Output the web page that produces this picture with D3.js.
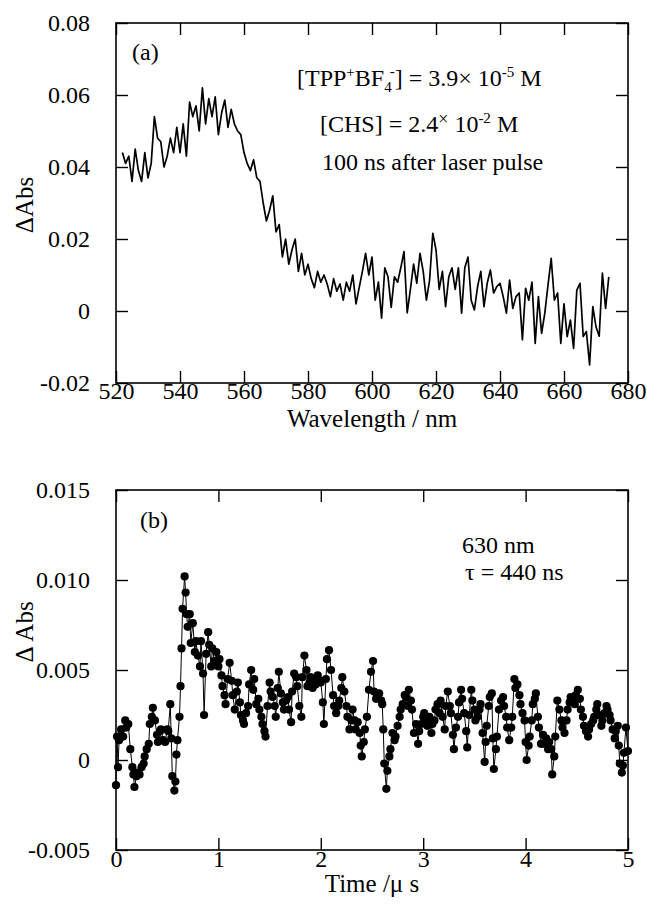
<!DOCTYPE html>
<html>
<head>
<meta charset="utf-8">
<script src="https://cdn.jsdelivr.net/npm/d3@7"></script>
<style>
  body { margin: 0; background: #fff; }
  svg text { font-family: "Liberation Serif", "Times New Roman", serif; fill: #000; }
</style>
</head>
<body>
<svg id="chart" width="647" height="910"></svg>
<script>
// ---- panel (a): transient absorption spectrum, 100 ns after pulse ----
const wavelengthNm = [
  522, 523, 524, 525, 526, 527, 528, 529, 530, 531,
  532, 533, 534, 535, 536, 537, 538, 539, 540, 541,
  542, 543, 544, 545, 546, 547, 548, 549, 550, 551,
  552, 553, 554, 555, 556, 557, 558, 559, 560, 561,
  562, 563, 564, 565, 566, 567, 568, 569, 570, 571,
  572, 573, 574, 575, 576, 577, 578, 579, 580, 581,
  582, 583, 584, 585, 586, 587, 588, 589, 590, 591,
  592, 593, 594, 595, 596, 597, 598, 599, 600, 601,
  602, 603, 604, 605, 606, 607, 608, 609, 610, 611,
  612, 613, 614, 615, 616, 617, 618, 619, 620, 621,
  622, 623, 624, 625, 626, 627, 628, 629, 630, 631,
  632, 633, 634, 635, 636, 637, 638, 639, 640, 641,
  642, 643, 644, 645, 646, 647, 648, 649, 650, 651,
  652, 653, 654, 655, 656, 657, 658, 659, 660, 661,
  662, 663, 664, 665, 666, 667, 668, 669, 670, 671,
  672, 673, 674
];
const spectrumAbs = [
  0.044, 0.041, 0.043, 0.036, 0.045, 0.039, 0.036, 0.044, 0.037, 0.041,
  0.054, 0.048, 0.047, 0.040, 0.043, 0.048, 0.044, 0.051, 0.044, 0.052,
  0.043, 0.058, 0.054, 0.057, 0.050, 0.062, 0.052, 0.059, 0.054, 0.0595,
  0.049, 0.055, 0.0586, 0.051, 0.056, 0.052, 0.050, 0.049, 0.044, 0.041,
  0.039, 0.042, 0.037, 0.036, 0.030, 0.025, 0.028, 0.032, 0.022, 0.024,
  0.015, 0.020, 0.013, 0.017, 0.020, 0.011, 0.016, 0.010, 0.013, 0.009,
  0.0065, 0.011, 0.008, 0.010, 0.0075, 0.004, 0.009, 0.0055, 0.0075, 0.003,
  0.008, 0.0055, 0.010, 0.002, 0.0065, 0.011, 0.016, 0.010, 0.015, 0.003,
  0.008, -0.002, 0.012, 0.0095, 0.001, 0.0095, 0.008, 0.012, 0.0165, -0.0005,
  0.006, 0.013, 0.0077, 0.016, 0.011, 0.003, 0.0086, 0.0216, 0.017, 0.006,
  0.011, 0.0012, 0.0095, 0.012, 0.006, 0.012, -0.0006, 0.012, 0.015, 0.003,
  0.0003, 0.0068, 0.011, 0.0012, 0.0077, 0.0114, 0.005, 0.0068, 0.0077, 0.004,
  -0.0006, 0.0086, 0.0007, 0.004, 0.005, -0.008, 0.0063, 0.003, 0.008, -0.009,
  0.004, -0.0062, -0.0006, 0.0072, 0.0146, 0.003, 0.005, -0.009, 0.002, -0.0071,
  -0.0025, -0.0104, 0.0058, 0.0077, -0.0071, -0.0057, -0.015, 0.0012, -0.0044, -0.007,
  0.0105, 0.0007, 0.0095
];
const spectrumXTicks = [520, 540, 560, 580, 600, 620, 640, 660, 680];
const spectrumYTicks = [-0.02, 0, 0.02, 0.04, 0.06, 0.08];

// ---- panel (b): decay at 630 nm ----
const timeUs = [
  0.00, 0.01, 0.02, 0.03, 0.05, 0.07, 0.09, 0.10, 0.12, 0.14,
  0.16, 0.17, 0.18, 0.20, 0.21, 0.23, 0.25, 0.27, 0.28, 0.30,
  0.32, 0.33, 0.35, 0.36, 0.38, 0.40, 0.41, 0.43, 0.44, 0.46,
  0.48, 0.50, 0.51, 0.53, 0.54, 0.55, 0.57, 0.58, 0.59, 0.60,
  0.62, 0.63, 0.64, 0.65, 0.67, 0.68, 0.69, 0.70, 0.72, 0.73,
  0.75, 0.77, 0.78, 0.80, 0.82, 0.83, 0.85, 0.86, 0.88, 0.90,
  0.91, 0.93, 0.94, 0.96, 0.98, 1.00, 1.01, 1.03, 1.04, 1.06,
  1.07, 1.09, 1.11, 1.13, 1.14, 1.16, 1.18, 1.19, 1.21, 1.22,
  1.24, 1.25, 1.27, 1.29, 1.30, 1.32, 1.34, 1.35, 1.37, 1.39,
  1.40, 1.42, 1.43, 1.45, 1.46, 1.48, 1.50, 1.51, 1.53, 1.55,
  1.56, 1.58, 1.59, 1.61, 1.63, 1.64, 1.66, 1.68, 1.69, 1.71,
  1.72, 1.74, 1.76, 1.77, 1.79, 1.81, 1.82, 1.84, 1.86, 1.87,
  1.89, 1.90, 1.92, 1.94, 1.95, 1.97, 1.99, 2.00, 2.02, 2.03,
  2.05, 2.06, 2.08, 2.10, 2.12, 2.13, 2.15, 2.17, 2.18, 2.20,
  2.21, 2.23, 2.25, 2.26, 2.28, 2.30, 2.31, 2.33, 2.34, 2.36,
  2.38, 2.39, 2.40, 2.42, 2.43, 2.45, 2.47, 2.49, 2.51, 2.52,
  2.54, 2.55, 2.57, 2.59, 2.60, 2.61, 2.62, 2.64, 2.65, 2.67,
  2.68, 2.70, 2.72, 2.73, 2.75, 2.77, 2.78, 2.80, 2.82, 2.83,
  2.85, 2.86, 2.88, 2.89, 2.91, 2.93, 2.95, 2.96, 2.98, 3.00,
  3.01, 3.03, 3.04, 3.06, 3.08, 3.09, 3.11, 3.12, 3.14, 3.16,
  3.17, 3.19, 3.21, 3.22, 3.24, 3.26, 3.27, 3.29, 3.30, 3.32,
  3.34, 3.35, 3.37, 3.38, 3.40, 3.42, 3.43, 3.45, 3.47, 3.48,
  3.50, 3.51, 3.53, 3.55, 3.56, 3.58, 3.60, 3.61, 3.62, 3.64,
  3.65, 3.67, 3.68, 3.69, 3.71, 3.72, 3.74, 3.76, 3.78, 3.79,
  3.81, 3.82, 3.84, 3.86, 3.87, 3.89, 3.90, 3.92, 3.94, 3.95,
  3.97, 3.99, 4.00, 4.01, 4.03, 4.04, 4.06, 4.07, 4.09, 4.10,
  4.12, 4.13, 4.15, 4.17, 4.18, 4.20, 4.22, 4.23, 4.25, 4.26,
  4.28, 4.29, 4.31, 4.33, 4.35, 4.36, 4.38, 4.40, 4.41, 4.43,
  4.44, 4.46, 4.48, 4.49, 4.51, 4.53, 4.54, 4.56, 4.57, 4.59,
  4.61, 4.62, 4.64, 4.66, 4.67, 4.69, 4.70, 4.72, 4.74, 4.75,
  4.77, 4.79, 4.80, 4.82, 4.83, 4.85, 4.87, 4.88, 4.90, 4.91,
  4.92, 4.94, 4.95, 4.96, 4.98, 5.00
];
const decayAbs = [
  -0.0014, 0.0013, -0.0004, 0.0011, 0.0017, 0.0013, 0.0022, 0.0018, 0.0020, 0.0006,
  -0.0004, -0.0008, -0.0015, -0.0009, -0.0007, -0.0008, -0.0004, -0.0002, 0.0002, 0.0006,
  0.0009, 0.0020, 0.0024, 0.0029, 0.0022, 0.0014, 0.0010, 0.0016, 0.0017, 0.0011,
  0.0010, 0.0017, 0.0016, 0.0031, 0.0012, -0.0009, -0.0017, -0.0012, 0.0003, 0.0011,
  0.0024, 0.0041, 0.0062, 0.0084, 0.0102, 0.0093, 0.0081, 0.0074, 0.0081, 0.0065,
  0.0076, 0.0060, 0.0066, 0.0058, 0.0052, 0.0066, 0.0048, 0.0025, 0.0059, 0.0071,
  0.0064, 0.0052, 0.0062, 0.0055, 0.0060, 0.0052, 0.0056, 0.0047, 0.0041, 0.0036,
  0.0031, 0.0045, 0.0054, 0.0044, 0.0036, 0.0028, 0.0038, 0.0043, 0.0032, 0.0025,
  0.0022, 0.0020, 0.0026, 0.0030, 0.0042, 0.0050, 0.0039, 0.0045, 0.0031, 0.0034,
  0.0028, 0.0024, 0.0020, 0.0016, 0.0013, 0.0030, 0.0043, 0.0038, 0.0035, 0.0030,
  0.0024, 0.0040, 0.0049, 0.0037, 0.0032, 0.0028, 0.0033, 0.0035, 0.0028, 0.0021,
  0.0038, 0.0048, 0.0046, 0.0041, 0.0030, 0.0024, 0.0046, 0.0058, 0.0050, 0.0041,
  0.0043, 0.0046, 0.0040, 0.0044, 0.0042, 0.0047, 0.0044, 0.0043, 0.0032, 0.0020,
  0.0045, 0.0056, 0.0061, 0.0050, 0.0036, 0.0030, 0.0026, 0.0030, 0.0033, 0.0040,
  0.0046, 0.0038, 0.0030, 0.0024, 0.0017, 0.0022, 0.0028, 0.0022, 0.0017, 0.0021,
  0.0015, 0.0008, 0.0002, 0.0010, 0.0017, 0.0024, 0.0039, 0.0049, 0.0055, 0.0038,
  0.0034, 0.0036, 0.0037, 0.0033, 0.0031, 0.0017, -0.0002, -0.0016, -0.0006, 0.0002,
  0.0006, 0.0015, 0.0011, 0.0013, 0.0019, 0.0024, 0.0028, 0.0031, 0.0036, 0.0035,
  0.0030, 0.0039, 0.0033, 0.0028, 0.0015, 0.0020, 0.0009, 0.0016, 0.0020, 0.0024,
  0.0026, 0.0022, 0.0019, 0.0024, 0.0015, 0.0020, 0.0022, 0.0028, 0.0031, 0.0026,
  0.0033, 0.0024, 0.0017, 0.0030, 0.0038, 0.0030, 0.0026, 0.0014, 0.0006, 0.0018,
  0.0024, 0.0032, 0.0039, 0.0034, 0.0026, 0.0016, 0.0007, 0.0025, 0.0039, 0.0033,
  0.0028, 0.0022, 0.0024, 0.0028, 0.0031, 0.0015, -0.0001, 0.0010, 0.0019, 0.0030,
  0.0035, 0.0037, 0.0012, -0.0005, 0.0006, 0.0013, 0.0028, 0.0033, 0.0035, 0.0030,
  0.0024, 0.0018, 0.0011, 0.0018, 0.0024, 0.0045, 0.0040, 0.0042, 0.0036, 0.0031,
  0.0026, 0.0022, 0.0010, 0.0000, 0.0008, 0.0013, 0.0022, 0.0031, 0.0034, 0.0037,
  0.0024, 0.0018, 0.0009, 0.0014, 0.0009, 0.0012, 0.0006, 0.0010, 0.0006, -0.0008,
  0.0002, 0.0013, 0.0033, 0.0028, 0.0022, 0.0018, 0.0015, 0.0022, 0.0028, 0.0032,
  0.0035, 0.0033, 0.0031, 0.0036, 0.0039, 0.0034, 0.0028, 0.0024, 0.0019, 0.0016,
  0.0013, 0.0017, 0.0020, 0.0022, 0.0024, 0.0028, 0.0031, 0.0025, 0.0019, 0.0022,
  0.0026, 0.0030, 0.0028, 0.0025, 0.0022, 0.0017, 0.0012, 0.0016, 0.0019, 0.0008,
  -0.0002, -0.0007, -0.0003, 0.0004, 0.0018, 0.0005
];
const decayXTicks = [0, 1, 2, 3, 4, 5];
const decayYTicks = [-0.005, 0, 0.005, 0.010, 0.015];

const svg = d3.select('#chart');
const FONT = '"Liberation Serif", "Times New Roman", serif';

// Frame + inward ticks on all four sides
function drawFrame(g, x, y, w, h, xTicks, yTicks, xFmt, yFmt, xPad) {
  const axes = [
    { axis: d3.axisBottom(x).tickValues(xTicks).tickFormat(xFmt).tickPadding(xPad), t: `translate(0,${h})` },
    { axis: d3.axisTop(x).tickValues(xTicks).tickFormat(''), t: 'translate(0,0)' },
    { axis: d3.axisLeft(y).tickValues(yTicks).tickFormat(yFmt).tickPadding(26), t: 'translate(0,0)' },
    { axis: d3.axisRight(y).tickValues(yTicks).tickFormat(''), t: `translate(${w},0)` }
  ];
  axes.forEach(a => {
    const ag = g.append('g').attr('transform', a.t)
      .call(a.axis.tickSize(-12))
      .attr('font-family', FONT)
      .attr('font-size', 24);
    ag.select('.domain').remove();
    ag.selectAll('.tick line').attr('stroke', '#000').attr('stroke-width', 1.4);
  });
  g.append('rect')
    .attr('width', w).attr('height', h)
    .attr('fill', 'none').attr('stroke', '#000').attr('stroke-width', 1.6);
}

// ---------- panel (a) ----------
const A = { left: 116, top: 23, width: 512, height: 360 };
const xA = d3.scaleLinear().domain([520, 680]).range([0, A.width]);
const yA = d3.scaleLinear().domain([-0.02, 0.08]).range([A.height, 0]);
const gA = svg.append('g').attr('transform', `translate(${A.left},${A.top})`);

gA.append('path')
  .datum(wavelengthNm.map((w, i) => [w, spectrumAbs[i]]))
  .attr('fill', 'none')
  .attr('stroke', '#000')
  .attr('stroke-width', 1.7)
  .attr('stroke-linejoin', 'round')
  .attr('d', d3.line().x(d => xA(d[0])).y(d => yA(d[1])));

drawFrame(gA, xA, yA, A.width, A.height, spectrumXTicks, spectrumYTicks,
  d => d, d => d === 0 ? '0' : d.toFixed(2), -1);

gA.append('text').attr('x', 16).attr('y', 37).attr('font-size', 24).text('(a)');

// concentration labels
const t1 = gA.append('text').attr('x', 181).attr('y', 63).attr('font-size', 24);
t1.append('tspan').text('[TPP');
t1.append('tspan').attr('font-size', 15).attr('dy', -9).text('+');
t1.append('tspan').attr('dy', 9).text('BF');
t1.append('tspan').attr('font-size', 15).attr('dy', 6).text('4');
t1.append('tspan').attr('font-size', 15).attr('dy', -16).attr('dx', -2).text('-');
t1.append('tspan').attr('dy', 10).text('] = 3.9\u00d7 10');
t1.append('tspan').attr('font-size', 15).attr('dy', -9).text('-5');
t1.append('tspan').attr('dy', 9).text(' M');

const t2 = gA.append('text').attr('x', 204).attr('y', 109).attr('font-size', 24);
t2.append('tspan').text('[CHS] = 2.4');
t2.append('tspan').attr('font-size', 18).attr('dy', -7).text('\u00d7');
t2.append('tspan').attr('dy', 7).text(' 10');
t2.append('tspan').attr('font-size', 15).attr('dy', -9).text('-2');
t2.append('tspan').attr('dy', 9).text(' M');

gA.append('text').attr('x', 206).attr('y', 147).attr('font-size', 24)
  .text('100 ns after laser pulse');

svg.append('text').attr('x', A.left + A.width / 2).attr('y', 427)
  .attr('text-anchor', 'middle').attr('font-size', 25).text('Wavelength / nm');
svg.append('text').attr('transform', 'translate(33,205) rotate(-90)')
  .attr('text-anchor', 'middle').attr('font-size', 25).text('\u0394Abs');

// ---------- panel (b) ----------
const B = { left: 116, top: 490, width: 512, height: 360 };
const xB = d3.scaleLinear().domain([0, 5]).range([0, B.width]);
const yB = d3.scaleLinear().domain([-0.005, 0.015]).range([B.height, 0]);
const gB = svg.append('g').attr('transform', `translate(${B.left},${B.top})`);
const decay = timeUs.map((t, i) => [t, decayAbs[i]]);

gB.append('path')
  .datum(decay)
  .attr('fill', 'none')
  .attr('stroke', '#000')
  .attr('stroke-width', 1)
  .attr('d', d3.line().x(d => xB(d[0])).y(d => yB(d[1])));

gB.selectAll('circle.pt')
  .data(decay)
  .join('circle')
  .attr('class', 'pt')
  .attr('cx', d => xB(d[0]))
  .attr('cy', d => yB(d[1]))
  .attr('r', 4.1)
  .attr('fill', '#000');

drawFrame(gB, xB, yB, B.width, B.height, decayXTicks, decayYTicks,
  d => d, d => d === 0 ? '0' : d.toFixed(3), 0);

gB.append('text').attr('x', 24).attr('y', 38).attr('font-size', 24).text('(b)');
gB.append('text').attr('x', 346).attr('y', 63).attr('font-size', 24).text('630 nm');
gB.append('text').attr('x', 349).attr('y', 90).attr('font-size', 24).text('\u03c4 = 440 ns');

svg.append('text').attr('x', B.left + B.width / 2).attr('y', 892)
  .attr('text-anchor', 'middle').attr('font-size', 25).text('Time /\u03bc s');
svg.append('text').attr('transform', 'translate(33,632) rotate(-90)')
  .attr('text-anchor', 'middle').attr('font-size', 25).text('\u0394  Abs');
</script>
</body>
</html>
